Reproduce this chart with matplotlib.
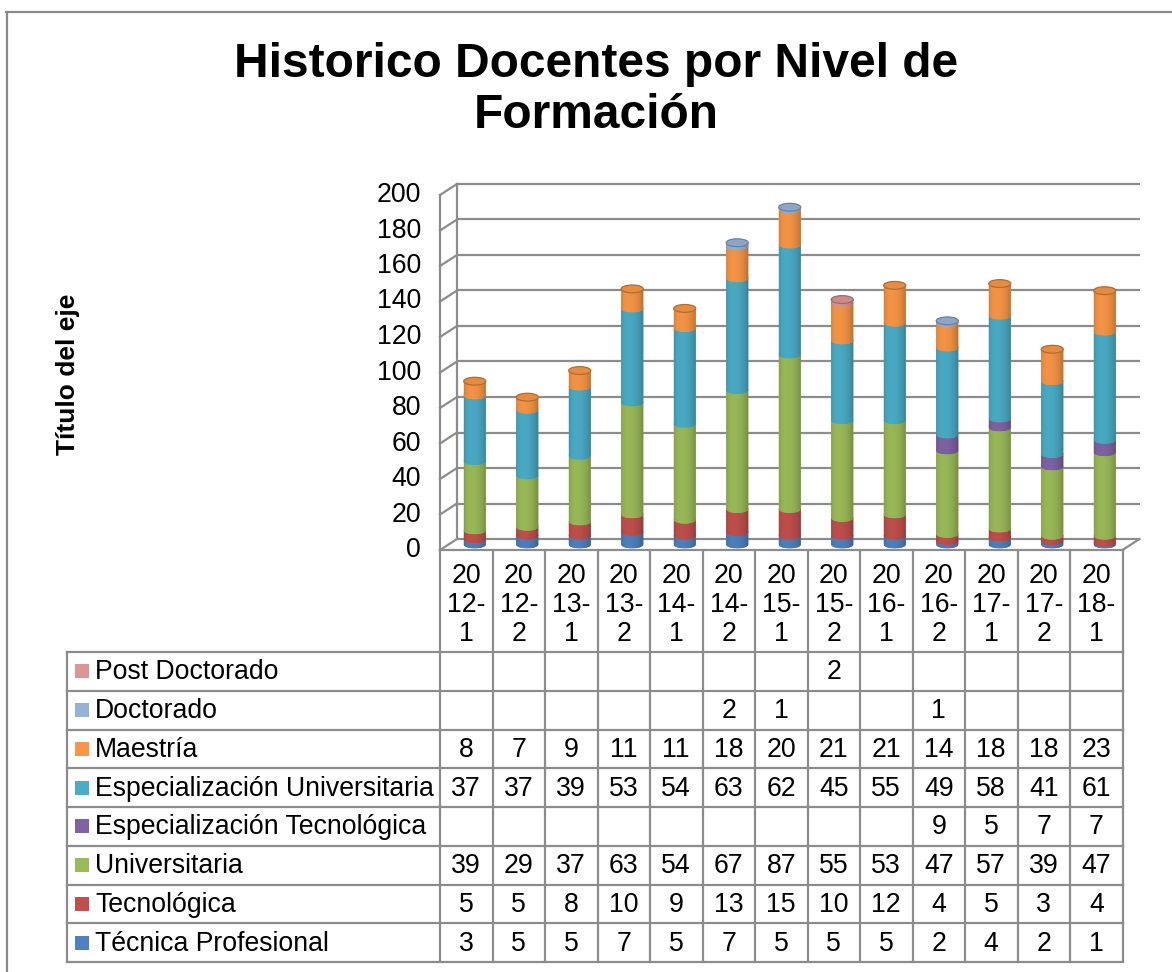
import numpy as np
import matplotlib
matplotlib.use("Agg")
import matplotlib.pyplot as plt
from matplotlib.path import Path
from matplotlib.patches import PathPatch, Ellipse, Rectangle
from matplotlib.transforms import ScaledTranslation, blended_transform_factory

plt.rcParams["font.family"] = ["Liberation Sans", "DejaVu Sans"]

nan = np.nan
periods = ["2012-1", "2012-2", "2013-1", "2013-2", "2014-1", "2014-2", "2015-1",
           "2015-2", "2016-1", "2016-2", "2017-1", "2017-2", "2018-1"]

tecnica_profesional = [3, 5, 5, 7, 5, 7, 5, 5, 5, 2, 4, 2, 1]
tecnologica = [5, 5, 8, 10, 9, 13, 15, 10, 12, 4, 5, 3, 4]
universitaria = [39, 29, 37, 63, 54, 67, 87, 55, 53, 47, 57, 39, 47]
esp_tecnologica = [nan, nan, nan, nan, nan, nan, nan, nan, nan, 9, 5, 7, 7]
esp_universitaria = [37, 37, 39, 53, 54, 63, 62, 45, 55, 49, 58, 41, 61]
maestria = [8, 7, 9, 11, 11, 18, 20, 21, 21, 14, 18, 18, 23]
doctorado = [nan, nan, nan, nan, nan, 2, 1, nan, nan, 1, nan, nan, nan]
post_doctorado = [nan, nan, nan, nan, nan, nan, nan, 2, nan, nan, nan, nan, nan]

# stacking order, bottom to top
series_names = ["Técnica Profesional", "Tecnológica", "Universitaria",
                "Especialización Tecnológica", "Especialización Universitaria",
                "Maestría", "Doctorado", "Post Doctorado"]
series_values = [tecnica_profesional, tecnologica, universitaria, esp_tecnologica,
                 esp_universitaria, maestria, doctorado, post_doctorado]
series_colors = ["#4F81BD", "#C0504D", "#9BBB59", "#8064A2",
                 "#4BACC6", "#F79646", "#95B3D7", "#D99694"]

W, H = 1172, 972
DPI = 100
X_LEFT, X_RIGHT = 440, 1122.5      # front plane, pixels
Y_ZERO, Y_TOP = 550, 195
DEPTH_X, DEPTH_Y = 17, 11          # 3d depth of the walls, pixels
GRID = "#8c8c8c"
FS = 19.2

fig = plt.figure(figsize=(W / DPI, H / DPI), dpi=DPI)

# full-figure canvas in pixel coordinates for frame, walls and table
canvas = fig.add_axes([0, 0, 1, 1], zorder=0)
canvas.set_xlim(0, W)
canvas.set_ylim(H, 0)
canvas.axis("off")

ax = fig.add_axes([X_LEFT / W, 1 - Y_ZERO / H, (X_RIGHT - X_LEFT) / W,
                   (Y_ZERO - Y_TOP) / H], zorder=1)
ax.patch.set_alpha(0)
ax.axis("off")
n = len(periods)
y_ticks = np.arange(0, 201, 20)


def ypx(v):
    return Y_ZERO - v * (Y_ZERO - Y_TOP) / 200.0


# outer frame
canvas.plot([6.5, 6.5], [12, H], color="#8a8a8a", lw=1.6)
canvas.plot([6, W], [12.5, 12.5], color="#8a8a8a", lw=1.6)

# back wall gridlines (shifted by the depth)
back = ax.transData + ScaledTranslation(DEPTH_X / DPI, DEPTH_Y / DPI, fig.dpi_scale_trans)
for v in y_ticks:
    ax.plot([-0.5, n - 0.5], [v, v], color=GRID, lw=1.6, transform=back,
            clip_on=False, solid_capstyle="butt")

# side wall and floor edges
for v in y_ticks:
    canvas.plot([X_LEFT, X_LEFT + DEPTH_X], [ypx(v), ypx(v) - DEPTH_Y], color=GRID, lw=1.6)
canvas.plot([X_LEFT, X_LEFT], [ypx(0), ypx(200)], color=GRID, lw=1.6)
canvas.plot([X_LEFT + DEPTH_X] * 2, [ypx(0) - DEPTH_Y, ypx(200) - DEPTH_Y], color=GRID, lw=1.6)
canvas.plot([X_RIGHT, X_RIGHT + DEPTH_X], [ypx(0), ypx(0) - DEPTH_Y], color=GRID, lw=1.6)

# y tick labels and axis title
ylab_tr = blended_transform_factory(canvas.transData, ax.transData)
for v in y_ticks:
    canvas.text(421, v, str(v), transform=ylab_tr, ha="right", va="center", fontsize=FS)
canvas.text(68, 374, "Título del eje", rotation=90, ha="center", va="center",
            fontsize=19, fontweight="bold")

canvas.text(596, 90, "Historico Docentes por Nivel de\nFormación", ha="center",
            va="center", fontsize=34.5, fontweight="bold", linespacing=1.15)

# cylinders sit halfway into the depth
mid = ax.transData + ScaledTranslation(DEPTH_X / 2 / DPI, DEPTH_Y / 2 / DPI, fig.dpi_scale_trans)
half_w = 0.21
cap_h = 2.2
u = np.linspace(-1, 1, 64)
shade = 0.74 + 0.24 * np.clip(np.cos(np.arcsin(u) + 0.35), 0, None)


def segment_path(xc, y0, y1):
    t_low = np.linspace(np.pi, 2 * np.pi, 40)
    t_up = np.linspace(0, np.pi, 40)
    xs = np.concatenate([xc + half_w * np.cos(t_low), xc + half_w * np.cos(t_up)])
    ys = np.concatenate([y0 + cap_h * np.sin(t_low), y1 + cap_h * np.sin(t_up)])
    verts = np.column_stack([xs, ys])
    verts = np.vstack([verts, verts[:1]])
    codes = [Path.MOVETO] + [Path.LINETO] * (len(verts) - 2) + [Path.CLOSEPOLY]
    return Path(verts, codes)


for i in range(n):
    bottom = 0.0
    top_color = None
    for vals, col in zip(series_values, series_colors):
        v = vals[i]
        if np.isnan(v):
            continue
        rgb = np.array(matplotlib.colors.to_rgb(col))
        patch = PathPatch(segment_path(i, bottom, bottom + v), facecolor=col,
                          edgecolor="none", transform=mid, clip_on=False, zorder=2)
        ax.add_patch(patch)
        grad = np.clip(rgb[None, None, :] * shade[None, :, None], 0, 1)
        im = ax.imshow(grad, extent=[i - half_w, i + half_w, bottom - cap_h, bottom + v + cap_h],
                       aspect="auto", interpolation="bilinear", transform=mid, zorder=2)
        im.set_clip_path(patch)
        bottom += v
        top_color = rgb
    cap = Ellipse((i, bottom), 2 * half_w, 2 * cap_h, transform=mid,
                  facecolor=np.clip(top_color * 0.93, 0, 1),
                  edgecolor=np.clip(top_color * 0.72, 0, 1), lw=0.9, zorder=3, clip_on=False)
    ax.add_patch(cap)

ax.set_xlim(-0.5, n - 0.5)
ax.set_ylim(0, 200)

# data table
col_tr = blended_transform_factory(ax.transData, canvas.transData)
HEAD_TOP, HEAD_BOT = 550, 652
ROW_H = 38.75
TABLE_LEFT = 67
rows = list(zip(series_names, series_values, series_colors))[::-1]
table_bot = HEAD_BOT + ROW_H * len(rows)

for k in range(n + 1):
    canvas.plot([k - 0.5, k - 0.5], [HEAD_TOP, table_bot], color=GRID, lw=1.6,
                transform=col_tr, solid_capstyle="butt")
canvas.plot([X_LEFT, X_RIGHT], [HEAD_TOP, HEAD_TOP], color=GRID, lw=1.6)
canvas.plot([TABLE_LEFT, TABLE_LEFT], [HEAD_BOT, table_bot], color=GRID, lw=1.6)
for r in range(len(rows) + 1):
    y = HEAD_BOT + r * ROW_H
    canvas.plot([TABLE_LEFT, X_RIGHT], [y, y], color=GRID, lw=1.6)

for i, p in enumerate(periods):
    canvas.text(i, (HEAD_TOP + HEAD_BOT) / 2 + 4, p[:2] + "\n" + p[2:5] + "\n" + p[5:],
                transform=col_tr, ha="center", va="center", fontsize=FS, linespacing=1.16)

for r, (name, vals, col) in enumerate(rows):
    yc = HEAD_BOT + (r + 0.5) * ROW_H
    canvas.add_patch(Rectangle((75, yc - 7), 14, 14, facecolor=col, edgecolor="none"))
    canvas.text(95, yc + 1, name, ha="left", va="center", fontsize=FS)
    for i, v in enumerate(vals):
        if not np.isnan(v):
            canvas.text(i, yc + 1, str(int(v)), transform=col_tr, ha="center",
                        va="center", fontsize=FS)

fig.savefig("out.png", dpi=DPI, facecolor="white")
